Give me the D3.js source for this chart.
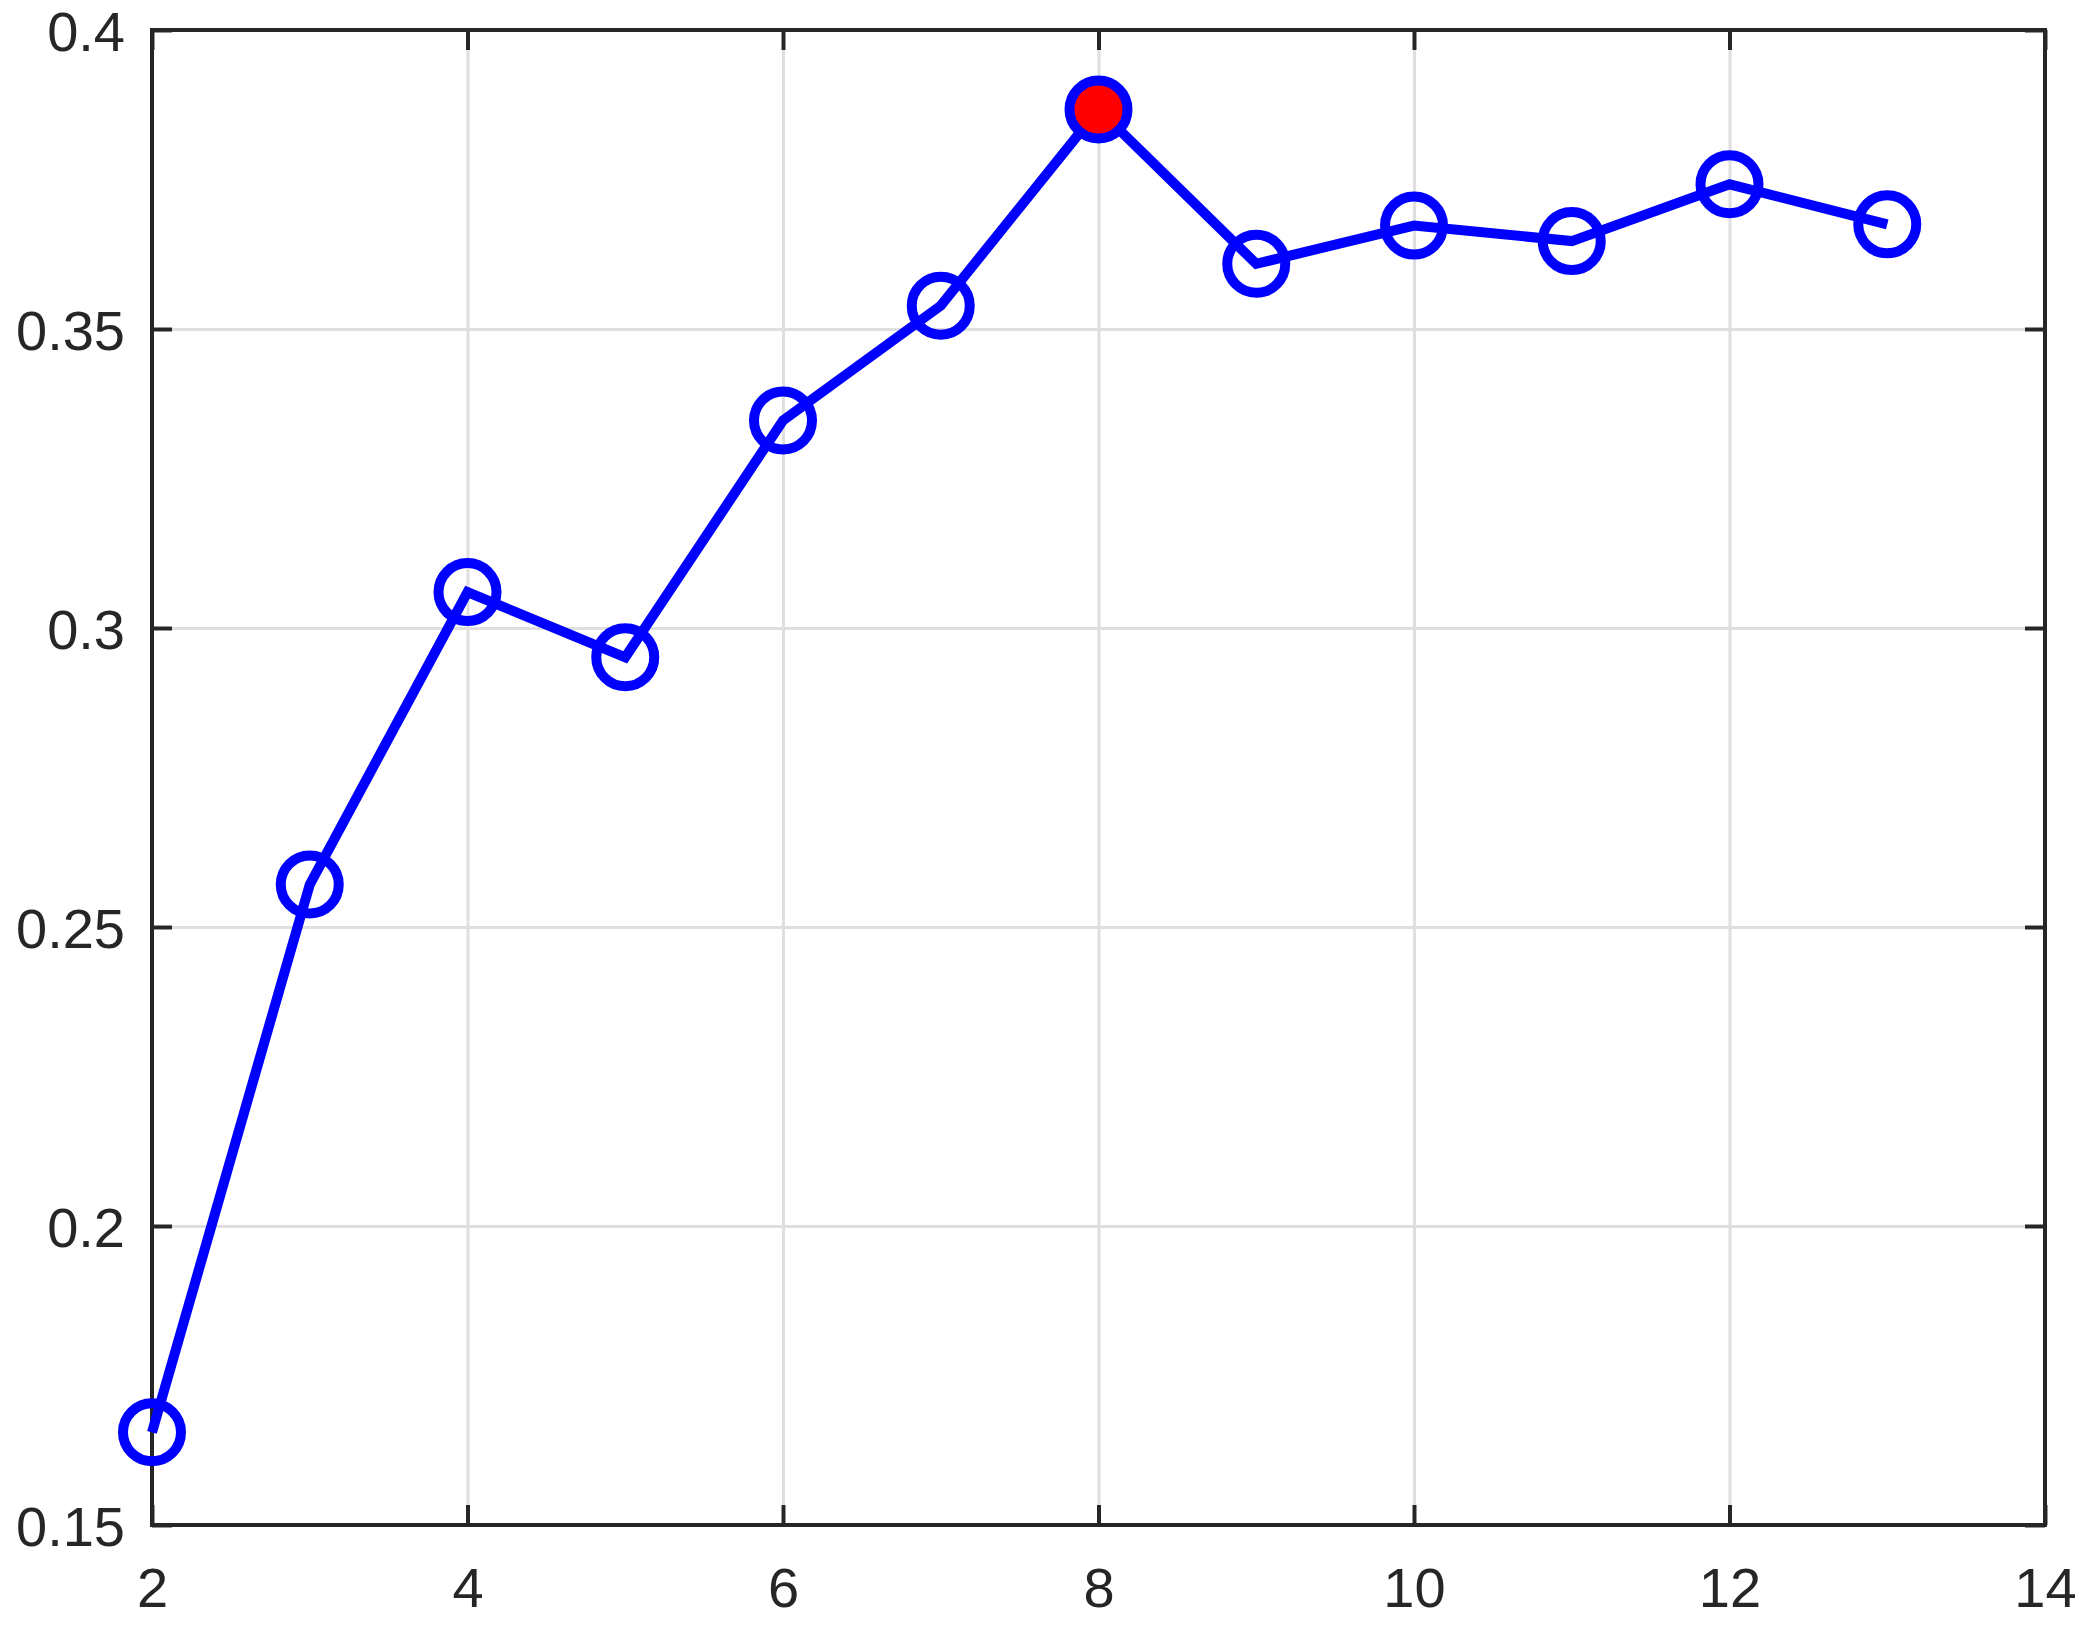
<!DOCTYPE html>
<html>
<head>
<meta charset="utf-8">
<script src="https://cdn.jsdelivr.net/npm/d3@7"></script>
<style>
    body { margin: 0; background: #fff; }
    #chart { width: 2083px; height: 1646px; }
    .tick text { font-family: "Liberation Sans", Arial, sans-serif; font-size: 56px; fill: #262626; }
</style>
</head>
<body>
<div id="chart"></div>
<script>
const k_values = [2, 3, 4, 5, 6, 7, 8, 9, 10, 11, 12, 13];
const scores = [0.1655, 0.2571, 0.3060, 0.2951, 0.3347, 0.3539, 0.3867, 0.3609, 0.3673, 0.3647, 0.3742, 0.3675];
const best_k = 8;
const x_ticks = [2, 4, 6, 8, 10, 12, 14];
const y_ticks = [0.15, 0.2, 0.25, 0.3, 0.35, 0.4];
const y_tick_labels = ["0.15", "0.2", "0.25", "0.3", "0.35", "0.4"];

const margin = { top: 30, right: 38, bottom: 121, left: 152 };
const width = 2083 - margin.left - margin.right;
const height = 1646 - margin.top - margin.bottom;

const svg = d3.select("#chart")
    .append("svg")
    .attr("width", width + margin.left + margin.right)
    .attr("height", height + margin.top + margin.bottom)
    .append("g")
    .attr("transform", `translate(${margin.left},${margin.top})`);

const x = d3.scaleLinear().domain([2, 14]).range([0, width]);
const y = d3.scaleLinear().domain([0.15, 0.4]).range([height, 0]);

// grid
svg.append("g")
    .attr("class", "grid")
    .attr("transform", `translate(0,${height})`)
    .call(d3.axisBottom(x).tickValues(x_ticks).tickSize(-height).tickFormat(""))
    .call(g => g.select(".domain").remove())
    .selectAll("line").attr("stroke", "#dfdfdf").attr("stroke-width", 3);
svg.append("g")
    .attr("class", "grid")
    .call(d3.axisLeft(y).tickValues(y_ticks).tickSize(-width).tickFormat(""))
    .call(g => g.select(".domain").remove())
    .selectAll("line").attr("stroke", "#dfdfdf").attr("stroke-width", 3);

// axes, ticks pointing inward
const xAxis = svg.append("g")
    .attr("transform", `translate(0,${height})`)
    .call(d3.axisBottom(x).tickValues(x_ticks).tickSize(-20).tickSizeOuter(0).tickPadding(42).tickFormat(d3.format("d")));
const yAxis = svg.append("g")
    .call(d3.axisLeft(y).tickValues(y_ticks).tickSize(-20).tickSizeOuter(0).tickPadding(27)
        .tickFormat((d, i) => y_tick_labels[i]));
yAxis.selectAll("text").attr("dy", "0.37em");
svg.append("g")
    .call(d3.axisTop(x).tickValues(x_ticks).tickSize(-20).tickSizeOuter(0).tickFormat(""));
svg.append("g")
    .attr("transform", `translate(${width},0)`)
    .call(d3.axisRight(y).tickValues(y_ticks).tickSize(-20).tickSizeOuter(0).tickFormat(""));

svg.selectAll(".domain").attr("stroke", "none");
svg.selectAll("g:not(.grid) > .tick line").attr("stroke", "#262626").attr("stroke-width", 4);
svg.selectAll(".tick text").attr("font-family", "Liberation Sans, Arial, sans-serif").attr("font-size", 56).attr("fill", "#262626");

svg.append("rect")
    .attr("x", 0)
    .attr("y", 0)
    .attr("width", width)
    .attr("height", height)
    .attr("fill", "none")
    .attr("stroke", "#262626")
    .attr("stroke-width", 4);

const points = k_values.map((k, i) => ({ k: k, v: scores[i] }));

const line = d3.line()
    .x(d => x(d.k))
    .y(d => y(d.v));

svg.append("path")
    .datum(points)
    .attr("fill", "none")
    .attr("stroke", "#0000ff")
    .attr("stroke-width", 10)
    .attr("stroke-linejoin", "miter")
    .attr("d", line);

svg.selectAll(".dot")
    .data(points)
    .enter().append("circle")
    .attr("class", "dot")
    .attr("cx", d => x(d.k))
    .attr("cy", d => y(d.v))
    .attr("r", 29)
    .attr("fill", d => d.k === best_k ? "#ff0000" : "none")
    .attr("stroke", "#0000ff")
    .attr("stroke-width", 10);
</script>
</body>
</html>
